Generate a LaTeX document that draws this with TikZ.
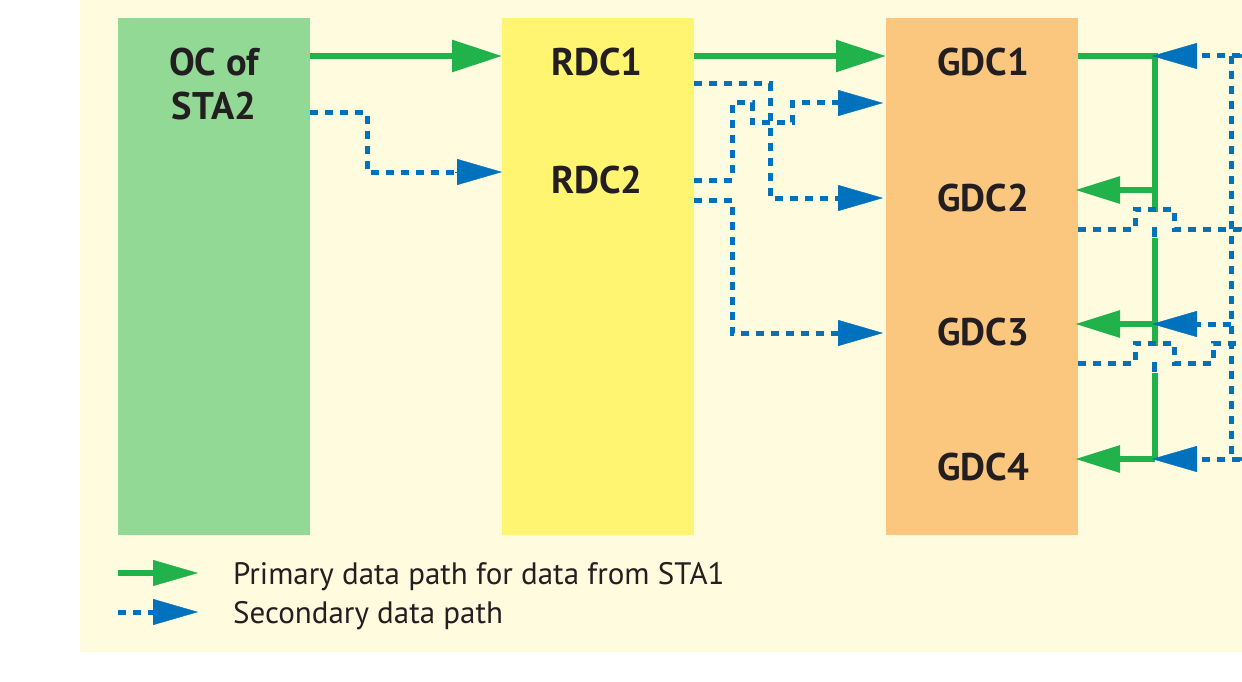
\documentclass[tikz,border=0pt]{standalone}
\usepackage{fontspec}
\setmainfont{PT Sans}
\usetikzlibrary{arrows.meta}
\definecolor{bgY}{HTML}{FFFBDF}
\definecolor{boxG}{HTML}{93D996}
\definecolor{boxY}{HTML}{FFF571}
\definecolor{boxO}{HTML}{FBC77E}
\definecolor{lineG}{HTML}{22B24C}
\definecolor{lineB}{HTML}{0071BC}
\definecolor{txt}{HTML}{231F20}
\begin{document}
\begin{tikzpicture}[x=1pt,y=-1pt,
  box/.style={fill=#1, draw=none, minimum width=192pt, minimum height=517pt, anchor=north west, inner sep=0pt, outer sep=0pt},
  lbl/.style={font=\bfseries\fontsize{38.5}{44}\selectfont, text=txt, anchor=base, inner sep=0pt},
  leg/.style={font=\fontsize{31}{36}\selectfont, text=txt, anchor=base west, inner sep=0pt},
  prim/.style={draw=lineG, line width=6pt},
  sec/.style={draw=lineB, line width=5pt, dash pattern=on 8pt off 7pt},
  bigtip/.style={-{Triangle[length=50pt,width=31pt]}},
  tip/.style={-{Triangle[length=45pt,width=26pt]}},
  gdash/.style={draw=lineB, line width=5pt}
]
\useasboundingbox (0,0) rectangle (1242,682);
\clip (0,0) rectangle (1242,682);
\fill[bgY] (80,0) rectangle (1300,652);

% boxes
\node[box=boxG] (oc) at (118,18) {};
\node[box=boxY] (rdc) at (502,18) {};
\node[box=boxO] (gdc) at (886,18) {};

% labels
\node[lbl] (ocA) at (214,76) {OC of};
\node[lbl] (ocB) at (214,120) {STA2};
\node[lbl] (rdc1) at (597,76) {RDC1};
\node[lbl] (rdc2) at (597,193) {RDC2};
\node[lbl] (gdc1) at (983,76) {GDC1};
\node[lbl] (gdc2) at (983,211) {GDC2};
\node[lbl] (gdc3) at (983,345) {GDC3};
\node[lbl] (gdc4) at (983,480) {GDC4};

% connection points
\coordinate (ocP) at (oc.east |- 0,56);
\coordinate (ocS) at (oc.east |- 0,113);
\coordinate (rdcPin) at (rdc.west |- 0,56);
\coordinate (rdcSin) at (rdc.west |- 0,172);
\coordinate (rdcPout) at (rdc.east |- 0,56);
\coordinate (rdcA) at (rdc.east |- 0,84);
\coordinate (rdcB) at (rdc.east |- 0,180);
\coordinate (rdcC) at (rdc.east |- 0,200);
\coordinate (gdcPin) at (gdc.west |- 0,56);
\coordinate (gdcA) at (883,198);
\coordinate (gdcB) at (883,103);
\coordinate (gdcC) at (883,333);
\coordinate (gdcPout) at (gdc.east |- 0,56);
\coordinate (g2in) at (1075,190);
\coordinate (g3in) at (1075,324);
\coordinate (g4in) at (1075,459);
\coordinate (g2out) at (gdc.east |- 0,229);
\coordinate (g3out) at (gdc.east |- 0,363);
\coordinate (b1) at (1152,56);
\coordinate (b3) at (1152,324);
\coordinate (b4) at (1152,459);
\coordinate (vx) at (1231,56);

% OC -> RDC
\draw[prim,bigtip] (ocP) -- (rdcPin);
\draw[sec] (ocS) -- (367,113) -- (367,172) -- (455,172);
\draw[lineB,tip] (455,172) -- (rdcSin);

% RDC -> GDC
\draw[prim,bigtip] (rdcPout) -- (gdcPin);
\draw[sec] (rdcA) -- (770,84) -- (770,198) -- (840,198);
\draw[lineB,tip] (840,198) -- (gdcA);
\draw[sec] (rdcB) -- (732,180) -- (732,103) -- (752,103) -- (752,123) -- (792,123) -- (792,103) -- (840,103);
\draw[lineB,tip] (840,103) -- (gdcB);
\draw[sec] (rdcC) -- (732,200) -- (732,333) -- (840,333);
\draw[lineB,tip] (840,333) -- (gdcC);

% GDC right side, primary
\draw[prim] (gdcPout) -- (1155,56) -- (1155,212);
\draw[prim] (1155,238) -- (1155,346);
\draw[prim] (1155,373) -- (1155,459);
\draw[prim,tip] (1155,190) -- (g2in);
\draw[prim,tip] (1155,324) -- (g3in);
\draw[prim,tip] (1155,459) -- (g4in);
\draw[gdash] (1154,227) -- (1154,237);
\draw[gdash] (1154,362) -- (1154,372);

% GDC right side, secondary
\draw[sec] (1300,56) -- (1195,56);
\draw[lineB,tip] (1196,56) -- (b1);
\draw[sec] (vx) -- (1231,459);
\draw[sec] (1231,324) -- (1195,324);
\draw[lineB,tip] (1196,324) -- (b3);
\draw[sec] (1300,459) -- (1195,459);
\draw[lineB,tip] (1196,459) -- (b4);
\draw[sec] (g2out) -- (1135,229) -- (1135,209) -- (1174,209) -- (1174,229) -- (1300,229);
\draw[sec] (g3out) -- (1135,363) -- (1135,343) -- (1174,343) -- (1174,363) -- (1213,363) -- (1213,343) -- (1300,343);
\draw[lineB,tip] (1290,56) -- (1235,56);
\draw[lineB,tip] (1290,229) -- (1235,229);
\draw[lineB,tip] (1290,459) -- (1235,459);

% legend
\coordinate (lg1) at (118,573);
\coordinate (lg2) at (118,612);
\draw[prim] (lg1) -- (155,573);
\draw[lineG,tip] (155,573) -- (198,573);
\draw[sec] (lg2) -- (155,612);
\draw[lineB,tip] (155,612) -- (198,612);
\node[leg] (legA) at (233,584) {Primary data path for data from STA1};
\node[leg] (legB) at (233,623) {Secondary data path};
\end{tikzpicture}
\end{document}
